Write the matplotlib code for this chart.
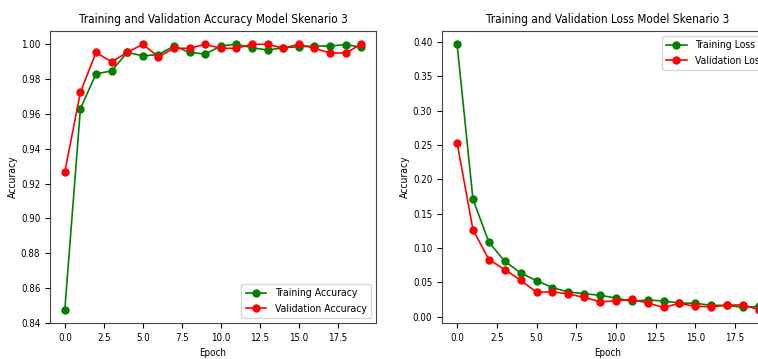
import matplotlib
matplotlib.use('Agg')
import matplotlib.pyplot as plt
from matplotlib.ticker import MultipleLocator

epochs = list(range(20))

train_acc = [0.8475, 0.963, 0.983, 0.9847, 0.9953, 0.9934, 0.994, 0.999, 0.9953, 0.9944,
             0.999, 1.000, 0.998, 0.9967, 0.998, 0.9986, 0.999, 0.999, 0.9998, 0.9984]
val_acc = [0.9268, 0.9724, 0.9953, 0.9899, 0.9953, 1.000, 0.9928, 0.9977, 0.9977, 1.000,
           0.9977, 0.9977, 1.000, 1.000, 0.9977, 1.000, 0.9977, 0.995, 0.995, 1.000]

train_loss = [0.3967, 0.171, 0.1086, 0.0808, 0.0638, 0.0526, 0.0424, 0.036, 0.0336, 0.0312,
              0.0273, 0.0224, 0.0244, 0.0229, 0.020, 0.0195, 0.0166, 0.0166, 0.0136, 0.0151]
val_loss = [0.2532, 0.1266, 0.0833, 0.0687, 0.0531, 0.0356, 0.0365, 0.0331, 0.0282, 0.0219,
            0.0229, 0.0253, 0.020, 0.0136, 0.0195, 0.0151, 0.0146, 0.0166, 0.0175, 0.0102]

plt.rcParams['font.family'] = ['DejaVu Sans']
plt.rcParams['font.stretch'] = 'condensed'

W, H = 758, 359
fig = plt.figure(figsize=(W / 100, H / 100), dpi=100)
# right panel runs past the edge of the picture, like the cropped original
ax1 = fig.add_axes([50 / W, 36 / H, 326 / W, 292 / H])
ax2 = fig.add_axes([442 / W, 36 / H, 332 / W, 292 / H])

ms, lw = 5, 1.2

ax1.plot(epochs, train_acc, 'go-', ms=ms, lw=lw, label='Training Accuracy')
ax1.plot(epochs, val_acc, 'ro-', ms=ms, lw=lw, label='Validation Accuracy')
ax1.set_title('Training and Validation Accuracy Model Skenario 3', fontsize=8.5)
ax1.set_xlabel('Epoch', fontsize=7)
ax1.set_ylabel('Accuracy', fontsize=7.5, labelpad=2)
ax1.legend(loc='lower right', fontsize=7.5)

ax2.plot(epochs, train_loss, 'go-', ms=ms, lw=lw, label='Training Loss')
ax2.plot(epochs, val_loss, 'ro-', ms=ms, lw=lw, label='Validation Loss')
ax2.set_title('Training and Validation Loss Model Skenario 3', fontsize=8.5)
ax2.set_xlabel('Epoch', fontsize=7)
ax2.set_ylabel('Accuracy', fontsize=7.5, labelpad=2)
ax2.legend(loc='upper right', fontsize=7.5)

for ax in (ax1, ax2):
    ax.tick_params(labelsize=7)
    ax.xaxis.set_major_locator(MultipleLocator(2.5))
    for s in ax.spines.values():
        s.set_color('#444444')

fig.savefig('out.png', dpi=100)
